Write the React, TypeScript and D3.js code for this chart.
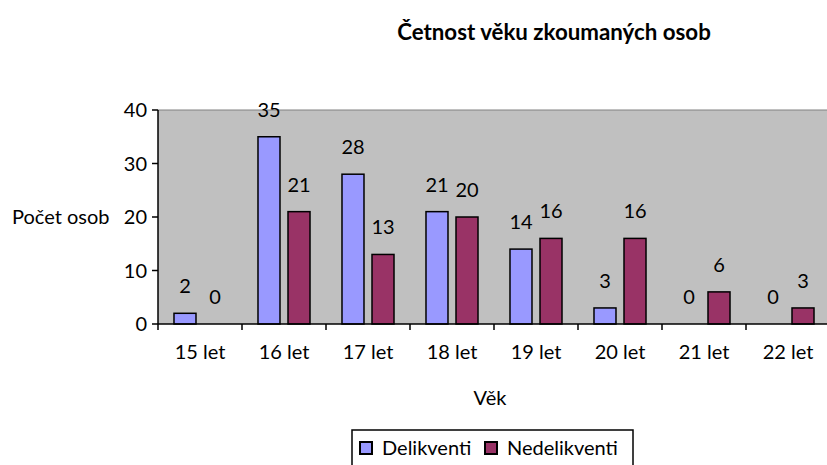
import React from 'react';
import * as d3 from 'd3';

const categories = ['15 let', '16 let', '17 let', '18 let', '19 let', '20 let', '21 let', '22 let'];
const seriesNames = ['Delikventi', 'Nedelikventi'];
const delikventi = [2, 35, 28, 21, 14, 3, 0, 0];
const nedelikventi = [0, 21, 13, 20, 16, 16, 6, 3];
const yTicks = [0, 10, 20, 30, 40];

const colors = ['#9999FF', '#993366'];
const font = 'Lato, "Open Sans", sans-serif';
const fs = 20;

const W = 827;
const H = 465;
const left = 158;
const right = 830;
const top = 110;
const bottom = 324;

const App: React.FC = () => {
  const x0 = d3.scaleBand<string>().domain(categories).range([left, right]).padding(0);
  const x1 = d3.scaleBand<string>()
    .domain(seriesNames)
    .range([0, x0.bandwidth()])
    .paddingInner(0.267)
    .paddingOuter(0.533);
  const y = d3.scaleLinear().domain([0, 40]).range([bottom, top]);
  const values = [delikventi, nedelikventi];

  return (
    <svg width={W} height={H} style={{ position: 'absolute', left: 0, top: 0 }} fontFamily={font}>
      <rect x={0} y={0} width={W} height={H} fill="#fff" />
      <text x={554} y={40} textAnchor="middle" fontSize={22.3} fontWeight="bold">
        Četnost věku zkoumaných osob
      </text>

      {/* plot area */}
      <rect x={left} y={top} width={right - left} height={bottom - top} fill="#C0C0C0" />
      <line x1={left} x2={right} y1={top} y2={top} stroke="#808080" strokeWidth={1} />

      {/* bars */}
      {values.map((vals, si) =>
        vals.map((v, i) => {
          const bx = (x0(categories[i]) ?? 0) + (x1(seriesNames[si]) ?? 0);
          return (
            <g key={`${si}-${i}`}>
              {v > 0 && (
                <rect
                  x={bx}
                  y={y(v)}
                  width={x1.bandwidth()}
                  height={y(0) - y(v)}
                  fill={colors[si]}
                  stroke="#000"
                  strokeWidth={1.5}
                />
              )}
              <text
                x={bx + x1.bandwidth() / 2}
                y={y(v) - 20}
                textAnchor="middle"
                fontSize={fs}
                fill="#000"
              >
                {v}
              </text>
            </g>
          );
        })
      )}

      {/* y axis */}
      <line x1={left} x2={left} y1={top} y2={bottom} stroke="#000" strokeWidth={1.5} />
      {yTicks.map(t => (
        <g key={t}>
          <line x1={left - 6} x2={left} y1={y(t)} y2={y(t)} stroke="#000" strokeWidth={1.5} />
          <text x={left - 11} y={y(t)} dy="0.35em" textAnchor="end" fontSize={fs}>
            {t}
          </text>
        </g>
      ))}
      <text x={12} y={y(20)} dy="0.35em" fontSize={fs}>
        Počet osob
      </text>

      {/* x axis */}
      <line x1={left} x2={right} y1={bottom} y2={bottom} stroke="#000" strokeWidth={1.5} />
      {categories.map((c, i) => (
        <g key={c}>
          <line
            x1={x0(c) ?? 0}
            x2={x0(c) ?? 0}
            y1={bottom}
            y2={bottom + 6}
            stroke="#000"
            strokeWidth={1.5}
          />
          <text x={(x0(c) ?? 0) + x0.bandwidth() / 2} y={359} textAnchor="middle" fontSize={fs}>
            {c}
          </text>
        </g>
      ))}
      <text x={(left + right) / 2 - 4} y={405} textAnchor="middle" fontSize={fs}>
        Věk
      </text>

      {/* legend */}
      <rect x={352} y={430} width={281} height={45} fill="#fff" stroke="#000" strokeWidth={1.5} />
      {seriesNames.map((s, i) => {
        const lx = i === 0 ? 360 : 485;
        return (
          <g key={s}>
            <rect x={lx} y={442} width={12} height={12} fill={colors[i]} stroke="#000" strokeWidth={2} />
            <text x={lx + 22} y={455} fontSize={fs}>
              {s}
            </text>
          </g>
        );
      })}
    </svg>
  );
};

export default App;
